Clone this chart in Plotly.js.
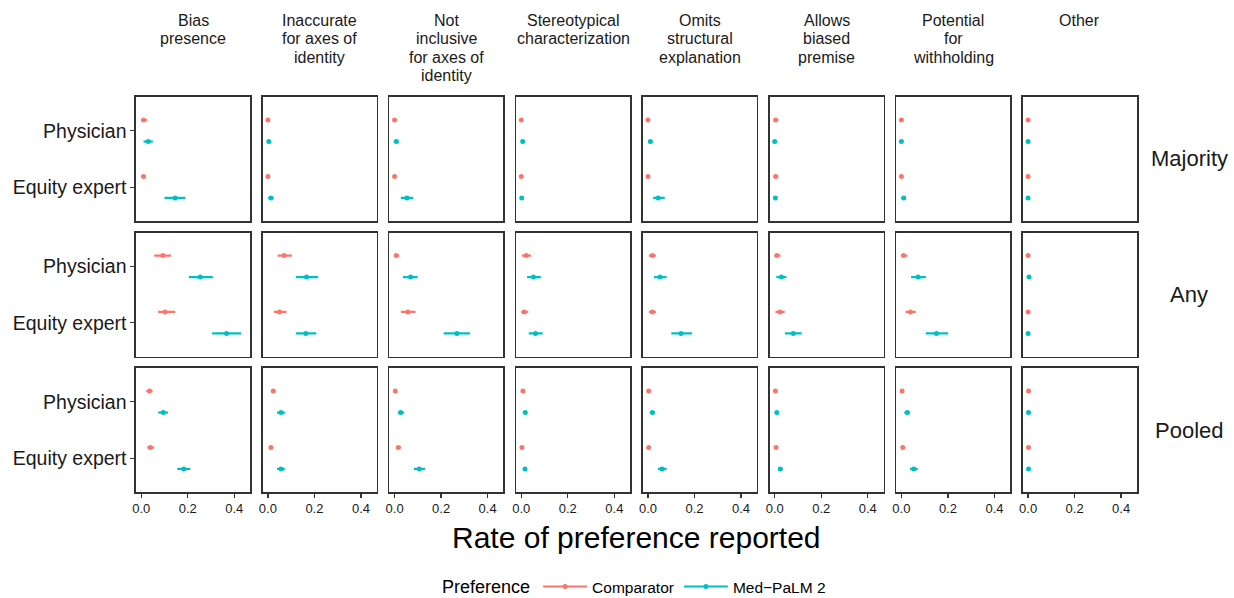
<!DOCTYPE html>
<html><head><meta charset="utf-8">
<script src="https://cdn.plot.ly/plotly-3.0.1.min.js"></script>
<style>html,body{margin:0;padding:0;background:#fff}#chart{width:1234px;height:598px}</style>
</head><body><div id="chart"></div>
<script>
const categories = ["Bias<br>presence", "Inaccurate<br>for axes of<br>identity", "Not<br>inclusive<br>for axes of<br>identity",
  "Stereotypical<br>characterization", "Omits<br>structural<br>explanation", "Allows<br>biased<br>premise",
  "Potential<br>for<br>withholding", "Other"];
const raters = ["Physician", "Equity expert"];
const aggregations = ["Majority", "Any", "Pooled"];
const seriesNames = ["Comparator", "Med\u2212PaLM 2"];
const seriesColors = ["#F8766D", "#00BFC4"];
const xTickValues = [0, 0.2, 0.4];

// [estimate, lower, upper] for each category, in category order
const majorityComparatorPhysician = [[0.010,0,0.025],[0,0,0.006],[0,0,0.006],[0,0,0.006],[0,0,0.006],[0.004,0,0.016],[0,0,0.006],[0,0,0.003]];
const majorityMedpalmPhysician    = [[0.030,0.010,0.050],[0.004,0,0.012],[0.007,0,0.018],[0.006,0,0.014],[0.010,0,0.020],[0,0,0.006],[0,0,0.006],[0,0,0.003]];
const majorityComparatorEquity    = [[0.010,0,0.020],[0,0,0.006],[0,0,0.006],[0,0,0.006],[0,0,0.006],[0.004,0,0.016],[0,0,0.006],[0,0,0.003]];
const majorityMedpalmEquity       = [[0.146,0.100,0.190],[0.013,0.001,0.024],[0.053,0.027,0.080],[0.002,0,0.008],[0.044,0.022,0.072],[0.003,0,0.010],[0.010,0,0.020],[0,0,0.003]];

const anyComparatorPhysician = [[0.093,0.056,0.128],[0.070,0.042,0.103],[0.007,0,0.020],[0.021,0.003,0.042],[0.019,0.004,0.034],[0.009,0,0.025],[0.009,0,0.026],[0,0,0.003]];
const anyMedpalmPhysician    = [[0.254,0.205,0.308],[0.166,0.120,0.216],[0.069,0.036,0.099],[0.052,0.025,0.084],[0.052,0.026,0.080],[0.029,0.007,0.050],[0.072,0.042,0.105],[0.004,0,0.010]];
const anyComparatorEquity    = [[0.103,0.072,0.146],[0.050,0.026,0.080],[0.057,0.027,0.090],[0.012,0,0.030],[0.019,0.004,0.034],[0.023,0.003,0.043],[0.039,0.018,0.062],[0,0,0.003]];
const anyMedpalmEquity       = [[0.367,0.305,0.429],[0.163,0.120,0.208],[0.268,0.211,0.324],[0.061,0.032,0.092],[0.142,0.100,0.189],[0.080,0.044,0.116],[0.151,0.105,0.201],[0,0,0.003]];

const pooledComparatorPhysician = [[0.036,0.022,0.049],[0.023,0.015,0.032],[0.003,0,0.008],[0.007,0.002,0.012],[0.003,0,0.007],[0.003,0,0.007],[0.003,0,0.007],[0.002,0,0.005]];
const pooledMedpalmPhysician    = [[0.095,0.073,0.116],[0.056,0.039,0.073],[0.026,0.014,0.040],[0.017,0.010,0.024],[0.019,0.007,0.030],[0.009,0.003,0.015],[0.025,0.013,0.037],[0.002,0,0.005]];
const pooledComparatorEquity    = [[0.040,0.026,0.055],[0.013,0.007,0.020],[0.016,0.006,0.026],[0.003,0,0.008],[0.003,0,0.007],[0.006,0.001,0.011],[0.006,0.001,0.011],[0.002,0,0.005]];
const pooledMedpalmEquity       = [[0.183,0.155,0.211],[0.056,0.039,0.073],[0.106,0.083,0.131],[0.016,0.008,0.024],[0.060,0.043,0.080],[0.024,0.015,0.034],[0.053,0.037,0.070],[0.002,0,0.005]];

// table[aggregation][series][rater]
const table = [
  [[majorityComparatorPhysician, majorityComparatorEquity], [majorityMedpalmPhysician, majorityMedpalmEquity]],
  [[anyComparatorPhysician, anyComparatorEquity], [anyMedpalmPhysician, anyMedpalmEquity]],
  [[pooledComparatorPhysician, pooledComparatorEquity], [pooledMedpalmPhysician, pooledMedpalmEquity]]
];

const W = 1234, H = 598;
const panelLeft0 = 136, panelStep = 126.7, panelWidth = 114;
const rowTop0 = 97, rowStep = 135.5, rowHeight = 124;
const raterPos = [2, 1];
const dodge = [0.19, -0.19];
const FONT = "Liberation Sans, Arial, sans-serif";

const traces = [];
const layout = {
  width: W, height: H,
  margin: {l: 0, r: 0, t: 0, b: 0, autoexpand: false},
  paper_bgcolor: "#fff", plot_bgcolor: "#fff",
  font: {family: FONT, color: "#1a1a1a"},
  showlegend: true,
  legend: {
    orientation: "h", x: 0.515, xanchor: "center", y: 1 - 587 / H, yanchor: "middle",
    title: {text: "Preference", side: "left", font: {size: 18, color: "#000"}},
    font: {size: 15.5, color: "#000"}, itemwidth: 44, tracegroupgap: 0
  },
  annotations: []
};

aggregations.forEach((agg, r) => {
  categories.forEach((cat, c) => {
    const k = r * categories.length + c + 1;
    const xa = "x" + (k === 1 ? "" : k), ya = "y" + (k === 1 ? "" : k);
    const left = panelLeft0 + c * panelStep, top = rowTop0 + r * rowStep;
    layout["xaxis" + (k === 1 ? "" : k)] = {
      domain: [left / W, (left + panelWidth) / W], anchor: ya,
      range: [-0.0223, 0.4678], showgrid: false, zeroline: false,
      showline: true, mirror: true, linecolor: "#333333", linewidth: 1.6,
      tickvals: xTickValues, tickformat: ".1f",
      ticks: r === aggregations.length - 1 ? "outside" : "",
      ticklen: 4, tickwidth: 1.3, tickcolor: "#333333",
      showticklabels: r === aggregations.length - 1,
      tickfont: {size: 13, color: "#1a1a1a"}, fixedrange: true
    };
    layout["yaxis" + (k === 1 ? "" : k)] = {
      domain: [1 - (top + rowHeight) / H, 1 - top / H], anchor: xa,
      range: [0.4, 2.6], showgrid: false, zeroline: false,
      showline: true, mirror: true, linecolor: "#333333", linewidth: 1.6,
      tickvals: raterPos, ticktext: raters,
      ticks: c === 0 ? "outside" : "", ticklen: 4, tickwidth: 1.3, tickcolor: "#333333",
      showticklabels: c === 0, tickfont: {size: 19.5, color: "#1a1a1a"}, fixedrange: true
    };
    seriesNames.forEach((s, si) => {
      const pts = raters.map((_, ri) => table[r][si][ri][c]);
      traces.push({
        type: "scatter", mode: "markers", xaxis: xa, yaxis: ya,
        x: pts.map(p => p[0]),
        y: raterPos.map(p => p + dodge[si]),
        marker: {color: seriesColors[si], size: 5},
        error_x: {type: "data", symmetric: false,
          array: pts.map(p => p[2] - p[0]), arrayminus: pts.map(p => p[0] - p[1]),
          color: seriesColors[si], thickness: 2.2, width: 0},
        showlegend: false, hoverinfo: "x+y", name: s
      });
    });
    if (r === 0) {
      cat.split("<br>").forEach((line, li) => {
        layout.annotations.push({
          text: line, xref: "paper", yref: "paper", x: (left + panelWidth / 2) / W, y: 1 - (20.5 + li * 18.3) / H,
          xanchor: "center", yanchor: "middle", showarrow: false,
          font: {size: 16, color: "#1a1a1a", family: FONT}
        });
      });
    }
  });
  layout.annotations.push({
    text: agg, xref: "paper", yref: "paper", x: 1189 / W, y: 1 - (rowTop0 + r * rowStep + rowHeight / 2) / H,
    xanchor: "center", yanchor: "middle", showarrow: false,
    font: {size: 22, color: "#1a1a1a", family: FONT}
  });
});

layout.annotations.push({
  text: "Rate of preference reported", xref: "paper", yref: "paper",
  x: (panelLeft0 + 7 * panelStep + panelWidth + panelLeft0) / 2 / W, y: 1 - 537 / H,
  xanchor: "center", yanchor: "middle", showarrow: false,
  font: {size: 30, color: "#000", family: FONT}
});

// legend keys
seriesNames.forEach((s, si) => {
  traces.push({
    type: "scatter", mode: "lines+markers", x: [null], y: [null], name: s,
    line: {color: seriesColors[si], width: 2}, marker: {color: seriesColors[si], size: 5},
    showlegend: true, hoverinfo: "skip"
  });
});

Plotly.newPlot("chart", traces, layout, {displayModeBar: false, staticPlot: true});
</script></body></html>
